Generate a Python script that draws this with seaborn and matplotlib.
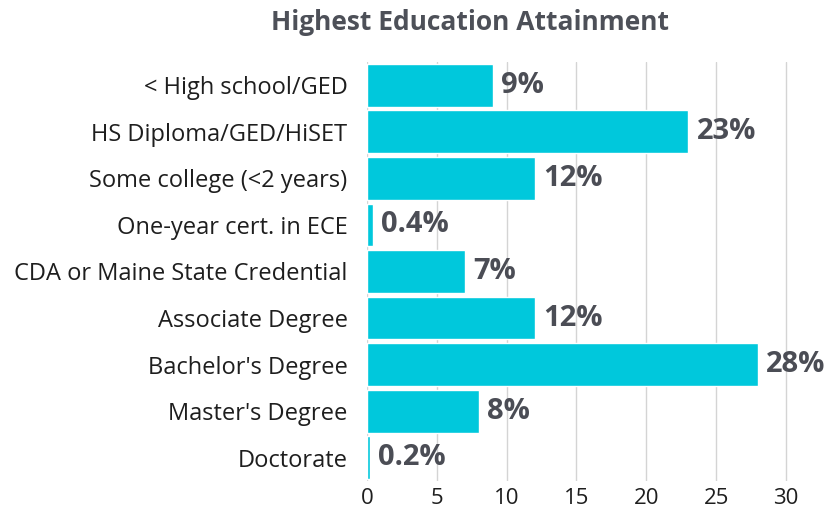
import matplotlib
matplotlib.use("Agg")
import matplotlib.pyplot as plt
import seaborn as sns
import pandas as pd

# Datos
categorias = [
    "< High school/GED",
    "HS Diploma/GED/HiSET",
    "Some college (<2 years)",
    "One-year cert. in ECE",
    "CDA or Maine State Credential",
    "Associate Degree",
    "Bachelor's Degree",
    "Master's Degree",
    "Doctorate",
]
valores = [9, 23, 12, 0.4, 7, 12, 28, 8, 0.2]
etiquetas = ["9%", "23%", "12%", "0.4%", "7%", "12%", "28%", "8%", "0.2%"]
ticks_x = [0, 5, 10, 15, 20, 25, 30]

df = pd.DataFrame({"categoria": categorias, "valor": valores})

sns.set_theme(style="white")
plt.rcParams['font.family'] = ['Open Sans', 'DejaVu Sans']

fig = plt.figure(figsize=(8.39, 5.12), dpi=100)
ax = fig.add_axes([0.4374, 0.0605, 0.5326, 0.8185])

sns.barplot(data=df, x="valor", y="categoria", orient="h", color="#00c8dc",
            saturation=1, width=0.92, ax=ax)

for i, (v, t) in enumerate(zip(valores, etiquetas)):
    ax.text(v + 0.6, i, t, va="center", ha="left", fontsize=21,
            fontweight="bold", color="#4b4d55")

ax.set_xlim(0, 32)
ax.set_xticks(ticks_x)
ax.set_xlabel("")
ax.set_ylabel("")
ax.tick_params(axis="both", length=0, colors="#1e1e1e")
ax.tick_params(axis="x", pad=5, labelsize=16)
ax.tick_params(axis="y", pad=14, labelsize=17)
ax.xaxis.grid(True, color="#d4d4d4", linewidth=1)
ax.set_axisbelow(True)
for s in ax.spines.values():
    s.set_visible(False)

fig.text(470 / 839, 1 - 23 / 512, "Highest Education Attainment", ha="center",
         va="center", fontsize=19, fontweight="bold", color="#4d5058")

fig.savefig("out.png", dpi=100)
